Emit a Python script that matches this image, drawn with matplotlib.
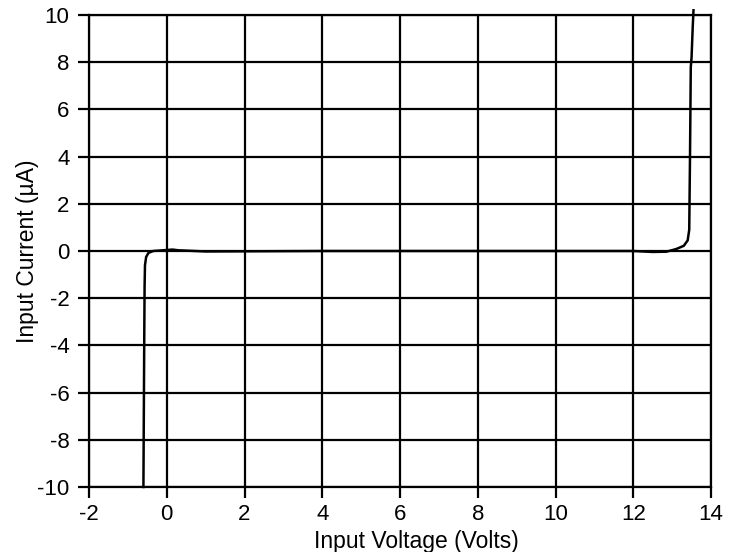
#!/usr/bin/env python3

import matplotlib.pyplot as plt

# curve (volts, microamps)
volts = [-0.60, -0.59, -0.58, -0.57, -0.56, -0.53, -0.47, -0.35, -0.1, 0.15, 0.3,
         1.0, 4.0, 8.0, 12.0, 12.5, 12.85, 13.1, 13.3, 13.40, 13.44, 13.46, 13.48,
         13.50, 13.53, 13.55]
current = [-10.0, -7.0, -4.0, -1.5, -0.6, -0.25, -0.08, 0.0, 0.03, 0.06, 0.03,
           -0.02, 0.0, 0.0, 0.0, -0.04, -0.03, 0.08, 0.22, 0.45, 0.9, 4.0, 7.8,
           8.2, 9.5, 10.2]

xticks = [-2, 0, 2, 4, 6, 8, 10, 12, 14]
yticks = [-10, -8, -6, -4, -2, 0, 2, 4, 6, 8, 10]


def main():
    plt.rcParams['font.family'] = ['Liberation Sans', 'DejaVu Sans']
    plt.rcParams['axes.unicode_minus'] = False
    fig = plt.figure(figsize=(7.34, 5.52), dpi=100)
    ax = fig.add_axes([89 / 734, 1 - 487 / 552, 622 / 734, 472 / 552])

    ax.plot(volts, current, color='black', lw=1.8, clip_on=False, zorder=3)

    ax.set_xlim(-2, 14)
    ax.set_ylim(-10, 10)
    ax.set_xticks(xticks)
    ax.set_yticks(yticks)
    ax.grid(True, color='black', lw=1.6)
    for s in ax.spines.values():
        s.set_linewidth(1.6)
    ax.tick_params(direction='out', length=8, width=1.6, labelsize=16)
    ax.tick_params(axis='y', pad=6)
    ax.tick_params(axis='x', pad=4)

    ax.set_xlabel('Input Voltage (Volts)', fontsize=16.5)
    ax.xaxis.set_label_coords(0.526, -0.091)
    ax.set_ylabel('Input Current (\u00b5A)', fontsize=16.5)
    ax.yaxis.set_label_coords(-0.080, 0.5)

    fig.savefig('out.png', dpi=100)


if __name__ == "__main__":
    main()
